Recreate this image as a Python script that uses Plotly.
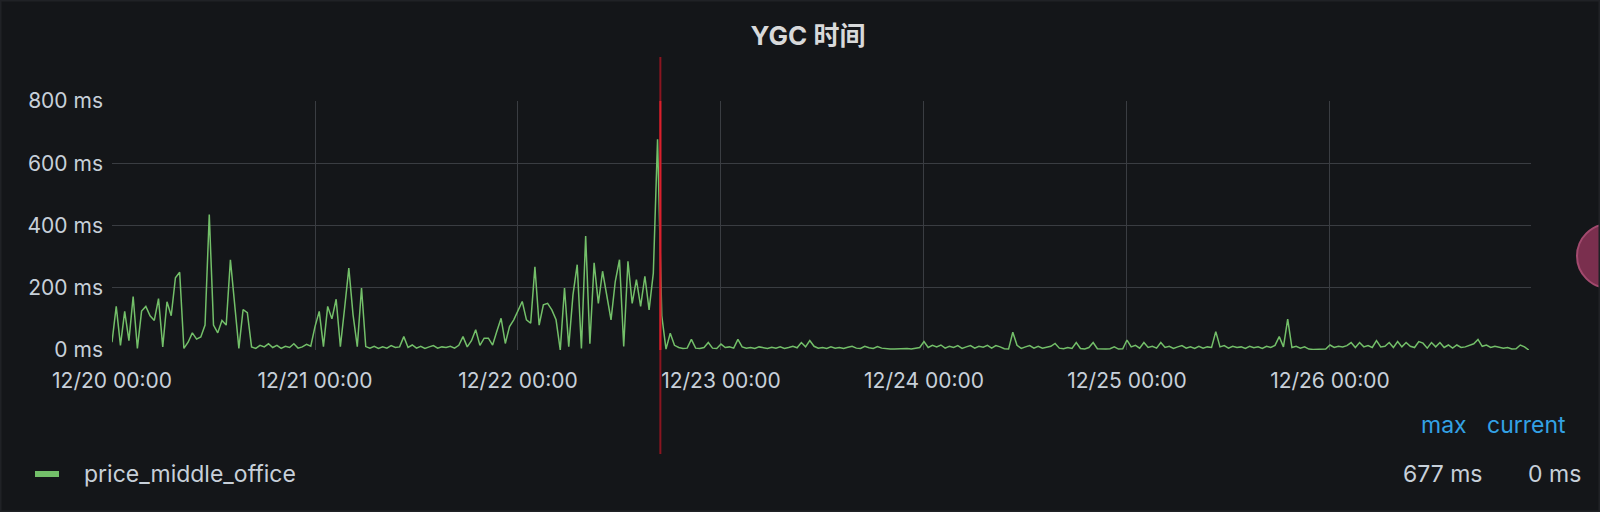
import pandas as pd
import plotly.graph_objects as go

# ---- data (YGC time in ms, one sample per 30 min, 12/20 00:00 -> 12/26 23:30) ----
day_1220 = [25, 140, 15, 124, 30, 172, 5, 125, 140, 110,
            95, 165, 10, 155, 110, 232, 250, 5, 25, 55,
            35, 42, 80, 435, 80, 55, 95, 80, 290, 150,
            5, 130, 120, 10, 5, 15, 10, 20, 8, 15,
            5, 12, 8, 20, 6, 10, 18, 12]
day_1221 = [75, 124, 11, 140, 100, 163, 11, 134, 263, 113,
            11, 199, 11, 6, 12, 5, 10, 6, 14, 8,
            10, 43, 8, 16, 6, 12, 5, 10, 14, 6,
            10, 8, 12, 6, 15, 43, 10, 30, 65, 15,
            38, 38, 16, 60, 102, 21, 75, 97]
day_1222 = [124, 156, 97, 86, 267, 80, 145, 150, 129, 97,
            0, 199, 11, 177, 274, 5, 366, 20, 280, 150,
            253, 172, 97, 220, 290, 11, 285, 150, 226, 140,
            237, 129, 247, 677, 110, 3, 54, 15, 8, 5,
            6, 34, 6, 5, 8, 24, 6, 5]
day_1223 = [19, 8, 10, 6, 34, 10, 6, 8, 5, 10,
            7, 5, 9, 6, 10, 5, 8, 12, 7, 24,
            10, 30, 12, 6, 8, 5, 10, 6, 8, 5,
            9, 12, 6, 5, 12, 7, 5, 11, 6, 4,
            3, 3, 4, 3, 5, 3, 6, 8]
day_1224 = [27, 8, 15, 10, 16, 6, 12, 8, 14, 5,
            10, 14, 6, 12, 9, 15, 6, 14, 10, 4,
            3, 57, 15, 5, 10, 14, 6, 12, 6, 10,
            12, 21, 6, 4, 8, 5, 24, 5, 3, 8,
            24, 4, 3, 3, 4, 10, 3, 4]
day_1225 = [32, 10, 15, 6, 24, 8, 12, 6, 24, 8,
            12, 5, 10, 14, 6, 10, 5, 12, 6, 10,
            8, 59, 10, 14, 6, 12, 8, 10, 5, 12,
            7, 10, 5, 12, 8, 15, 43, 10, 99, 8,
            12, 6, 10, 3, 2, 2, 2, 3]
day_1226 = [16, 8, 12, 10, 14, 24, 8, 24, 10, 14,
            8, 30, 10, 12, 24, 8, 27, 10, 24, 12,
            8, 27, 22, 6, 24, 10, 24, 8, 16, 6,
            16, 8, 10, 14, 20, 34, 12, 16, 8, 12,
            10, 6, 8, 3, 4, 16, 10, 0]

ygc_ms = day_1220 + day_1221 + day_1222 + day_1223 + day_1224 + day_1225 + day_1226
series_name = "price_middle_office"
start_time = "2022-12-20 00:00"
end_time = "2022-12-26 23:46"
marker_time = "2022-12-22 16:50"
day_ticks = ["2022-12-20", "2022-12-21", "2022-12-22", "2022-12-23",
             "2022-12-24", "2022-12-25", "2022-12-26"]
y_ticks = [0, 200, 400, 600, 800]
y_tick_text = ["0 ms", "200 ms", "400 ms", "600 ms", "800 ms"]
legend_max = "677 ms"
legend_current = "0 ms"

times = pd.date_range(start_time, periods=len(ygc_ms), freq="30min")

BG = "#141619"
TXT = "#c7d0d9"
GRID = "#3a3d42"
FONT = "Inter, Noto Sans CJK SC, sans-serif"
FS = 21
FS_LEG = 23

fig = go.Figure()
fig.add_trace(go.Scatter(x=times, y=ygc_ms, mode="lines", name=series_name,
                         line=dict(color="#73bf69", width=1.5), showlegend=False))

W, H = 1600, 512
L, R, T, B = 112, 1531, 101, 350


def px_to_paper_x(px):
    return (px - L) / (R - L)


def px_to_paper_y(py):
    return (B - py) / (B - T)


shapes = [
    dict(type="line", xref="x", yref="paper", x0=marker_time, x1=marker_time,
         y0=px_to_paper_y(454), y1=px_to_paper_y(57),
         line=dict(color="#8a1520", width=2), layer="above"),
    dict(type="line", xref="x", yref="paper", x0=marker_time, x1=marker_time,
         y0=0, y1=1, line=dict(color="#d8202c", width=2), layer="above"),
    dict(type="rect", xref="paper", yref="paper",
         x0=px_to_paper_x(35), x1=px_to_paper_x(59),
         y0=px_to_paper_y(477), y1=px_to_paper_y(471),
         fillcolor="#73bf69", line=dict(width=0)),
    dict(type="circle", xref="paper", yref="paper",
         x0=px_to_paper_x(1577), x1=px_to_paper_x(1641),
         y0=px_to_paper_y(288), y1=px_to_paper_y(224),
         fillcolor="#7a2f4e", line=dict(color="#a24a6e", width=2)),
    dict(type="rect", xref="paper", yref="paper",
         x0=px_to_paper_x(0.5), x1=px_to_paper_x(1599.5),
         y0=px_to_paper_y(511.5), y1=px_to_paper_y(0.5),
         line=dict(color="#202226", width=2), fillcolor="rgba(0,0,0,0)"),
]

annotations = [
    dict(text=series_name, xref="paper", yref="paper", x=px_to_paper_x(82), y=px_to_paper_y(474),
         xanchor="left", yanchor="middle", showarrow=False, font=dict(size=FS_LEG, color=TXT, family=FONT)),
    dict(text="max", xref="paper", yref="paper", x=px_to_paper_x(1469), y=px_to_paper_y(425),
         xanchor="right", yanchor="middle", showarrow=False, font=dict(size=FS_LEG, color="#33a2e5", family=FONT)),
    dict(text="current", xref="paper", yref="paper", x=px_to_paper_x(1568), y=px_to_paper_y(425),
         xanchor="right", yanchor="middle", showarrow=False, font=dict(size=FS_LEG, color="#33a2e5", family=FONT)),
    dict(text=legend_max, xref="paper", yref="paper", x=px_to_paper_x(1485), y=px_to_paper_y(474),
         xanchor="right", yanchor="middle", showarrow=False, font=dict(size=FS_LEG, color=TXT, family=FONT)),
    dict(text=legend_current, xref="paper", yref="paper", x=px_to_paper_x(1583), y=px_to_paper_y(474),
         xanchor="right", yanchor="middle", showarrow=False, font=dict(size=FS_LEG, color=TXT, family=FONT)),
]

fig.update_layout(
    width=W, height=H,
    margin=dict(l=L, r=W - R, t=T, b=H - B, pad=0),
    paper_bgcolor=BG, plot_bgcolor=BG,
    title=dict(text="<b>YGC 时间</b>", x=808 / W, xanchor="center", xref="container",
               y=1 - 36 / H, yanchor="middle", yref="container",
               font=dict(size=26, color="#d8d9da", family=FONT)),
    font=dict(family=FONT, color=TXT),
    shapes=shapes, annotations=annotations,
    showlegend=False,
)
fig.update_xaxes(range=[start_time, end_time], tickvals=day_ticks, tickformat="%m/%d %H:%M",
                 showgrid=True, gridcolor=GRID, gridwidth=1, zeroline=False, showline=False,
                 ticks="", tickfont=dict(size=FS, color=TXT, family=FONT), ticklabelstandoff=16)
fig.update_yaxes(range=[0, 800], tickvals=y_ticks, ticktext=y_tick_text,
                 showgrid=True, gridcolor=GRID, gridwidth=1, zeroline=False, showline=False,
                 ticks="", tickfont=dict(size=FS, color=TXT, family=FONT), ticklabelstandoff=8)

fig.write_html("out.html", config={"displayModeBar": False},
               post_script="document.body.style.margin='0';document.body.style.background='#141619';")
